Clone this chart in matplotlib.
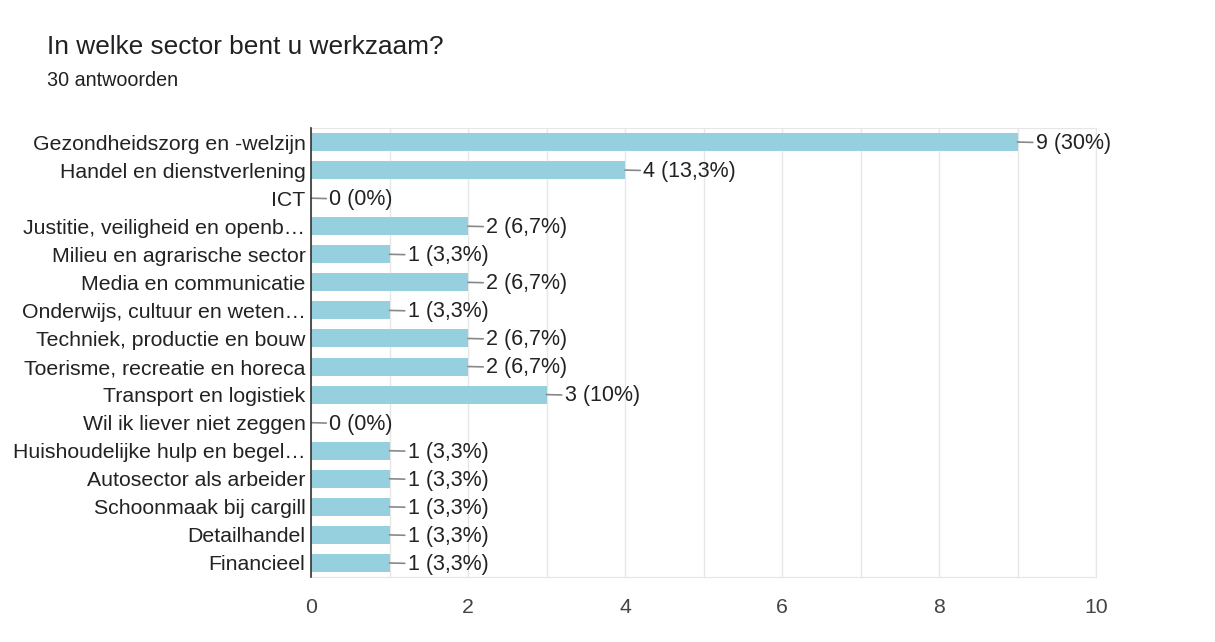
import matplotlib
matplotlib.use("Agg")
from matplotlib import pyplot as plt
import numpy as np

plt.rcParams['font.family'] = ['Liberation Sans', 'DejaVu Sans']

categories = [
    "Gezondheidszorg en -welzijn",
    "Handel en dienstverlening",
    "ICT",
    "Justitie, veiligheid en openb…",
    "Milieu en agrarische sector",
    "Media en communicatie",
    "Onderwijs, cultuur en weten…",
    "Techniek, productie en bouw",
    "Toerisme, recreatie en horeca",
    "Transport en logistiek",
    "Wil ik liever niet zeggen",
    "Huishoudelijke hulp en begel…",
    "Autosector als arbeider",
    "Schoonmaak bij cargill",
    "Detailhandel",
    "Financieel",
]
counts = [9, 4, 0, 2, 1, 2, 1, 2, 2, 3, 0, 1, 1, 1, 1, 1]
pct_labels = ["30%", "13,3%", "0%", "6,7%", "3,3%", "6,7%", "3,3%", "6,7%",
              "6,7%", "10%", "0%", "3,3%", "3,3%", "3,3%", "3,3%", "3,3%"]
x_ticks = [0, 2, 4, 6, 8, 10]

fig = plt.figure(figsize=(12.15, 6.42), dpi=100)
ax = fig.add_axes([311 / 1215, 1 - 577 / 642, 785 / 1215, 449 / 642])

y = np.arange(len(categories))
ax.barh(y, counts, height=0.64, color="#96d0de", zorder=2)

# value labels with a short grey leader line from the bar end
for yi, c, p in zip(y, counts, pct_labels):
    ax.annotate("{} ({})".format(c, p), xy=(c, yi), xytext=(13, -1),
                textcoords="offset points", va="center", ha="left",
                fontsize=15.5, color="#222222",
                arrowprops=dict(arrowstyle="-", color="#888888", lw=1.2,
                                shrinkA=0, shrinkB=0))

ax.set_xlim(0, 10)
ax.set_ylim(len(categories) - 0.5, -0.5)
ax.set_yticks(y)
ax.set_yticklabels(categories, fontsize=15.3, color="#222222")
ax.set_xticks(x_ticks)
ax.set_xticklabels([str(t) for t in x_ticks], fontsize=15.3, color="#444444")
ax.set_xticks(np.arange(0, 11, 1), minor=True)
ax.grid(axis="x", which="both", color="#e6e6e6", lw=1, zorder=0)
ax.tick_params(axis="both", which="both", length=0)
ax.tick_params(axis="x", pad=15)
ax.tick_params(axis="y", pad=4)

for s in ["top", "right", "bottom"]:
    ax.spines[s].set_color("#e6e6e6")
ax.spines["left"].set_color("#333333")
ax.spines["left"].set_linewidth(1.2)
ax.spines["left"].set_zorder(3)

fig.text(47 / 1215, 1 - 47 / 642, "In welke sector bent u werkzaam?",
         fontsize=18.9, color="#202124", va="center", ha="left")
fig.text(47 / 1215, 1 - 81 / 642, "30 antwoorden",
         fontsize=14.2, color="#202124", va="center", ha="left")

fig.savefig("out.png", dpi=100, facecolor="white")
